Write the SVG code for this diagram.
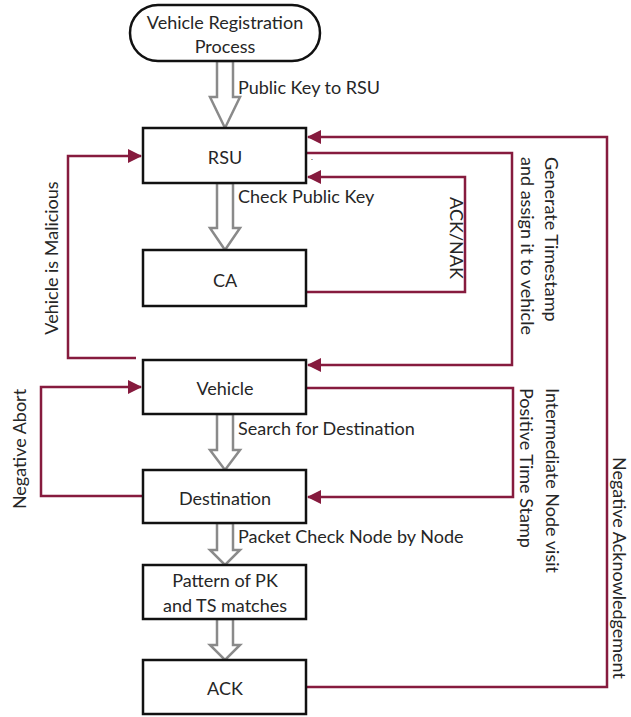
<svg xmlns="http://www.w3.org/2000/svg" width="631" height="717" viewBox="0 0 631 717">
<style>
text{font-family:Lato,"Open Sans","Liberation Sans",sans-serif;font-size:18px;fill:#262626}
.c{text-anchor:middle}
.box{fill:#fff;stroke:#111;stroke-width:2.5}
.ha{fill:#fff;stroke:#8a8a8a;stroke-width:2.5;stroke-linejoin:miter}
.con{fill:none;stroke:#861b3e;stroke-width:2.5}
</style>
<defs>
<marker id="ah" markerUnits="userSpaceOnUse" markerWidth="14" markerHeight="14" refX="13" refY="7" orient="auto">
<path d="M0,0 L14,7 L0,14 Z" fill="#861b3e"/>
</marker>
</defs>
<g id="arrows-hollow">
<path class="ha" d="M217,61 V97 H210 L225,128 L240,97 H233 V61 Z"/>
<path class="ha" d="M217,183 V228 H210 L225,250 L240,228 H233 V183 Z"/>
<path class="ha" d="M217,414 V450 H210 L225,470 L240,450 H233 V414 Z"/>
<path class="ha" d="M217,523 V550 H210 L225,565 L240,550 H233 V523 Z"/>
<path class="ha" d="M217,619 V645 H210 L225,660 L240,645 H233 V619 Z"/>
</g>
<g id="connectors">
<path class="con" d="M306,687 H607 V137 H308" marker-end="url(#ah)"/>
<path class="con" d="M306,153 H512 V365 H308" marker-end="url(#ah)"/>
<path class="con" d="M306,292 H465 V177 H308" marker-end="url(#ah)"/>
<path class="con" d="M136,358 H68 V156 H141" marker-end="url(#ah)"/>
<path class="con" d="M143,496 H41 V387 H141" marker-end="url(#ah)"/>
<path class="con" d="M306,388 H513 V497 H308" marker-end="url(#ah)"/>
</g>
<g id="start">
<rect class="box" x="130" y="5" width="190" height="56" rx="28"/>
<text class="c" x="225" y="29">Vehicle Registration</text>
<text class="c" x="225" y="53">Process</text>
</g>
<g id="rsu"><rect class="box" x="143" y="128" width="163" height="55"/><text class="c" x="225" y="164">RSU</text></g>
<g id="ca"><rect class="box" x="143" y="250" width="163" height="56"/><text class="c" x="225" y="287">CA</text></g>
<g id="vehicle"><rect class="box" x="143" y="360" width="163" height="54"/><text class="c" x="225" y="395">Vehicle</text></g>
<g id="destination"><rect class="box" x="143" y="470" width="163" height="53"/><text class="c" x="225" y="505">Destination</text></g>
<g id="pattern"><rect class="box" x="143" y="565" width="163" height="54"/><text class="c" x="225" y="587">Pattern of PK</text><text class="c" x="225" y="612">and TS matches</text></g>
<g id="ack"><rect class="box" x="143" y="660" width="163" height="54"/><text class="c" x="225" y="695">ACK</text></g>
<g id="labels">
<text x="238" y="94">Public Key to RSU</text>
<text x="238" y="203">Check Public Key</text>
<text x="238" y="435">Search for Destination</text>
<text x="238" y="543">Packet Check Node by Node</text>
<text x="311" y="160" style="font-size:8px">.</text>
<text transform="translate(450,238) rotate(90)" class="c">ACK/NAK</text>
<text transform="translate(545,157) rotate(90)">Generate Timestamp</text>
<text transform="translate(521,157) rotate(90)">and assign it to vehicle</text>
<text transform="translate(546,388) rotate(90)">Intermediate Node visit</text>
<text transform="translate(520,388) rotate(90)">Positive Time Stamp</text>
<text transform="translate(613,568) rotate(90)" class="c">Negative Acknowledgement</text>
<text transform="translate(58,258) rotate(-90)" class="c">Vehicle is Malicious</text>
<text transform="translate(26,449) rotate(-90)" class="c">Negative Abort</text>
</g>
</svg>
